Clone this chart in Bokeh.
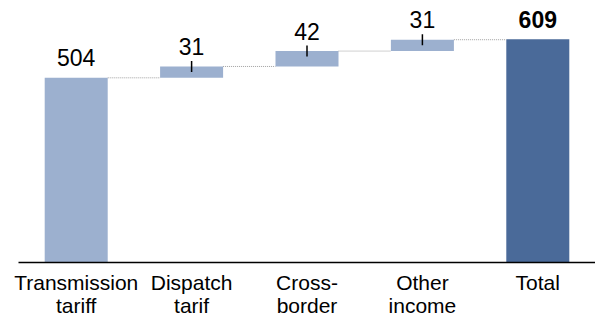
import math
from bokeh.plotting import figure
from bokeh.models import Range1d, FixedTicker, ColumnDataSource
from bokeh.embed import file_html
from bokeh.resources import INLINE
from bokeh.core.properties import value

# ---- data ----
categories = ["Transmission\ntariff", "Dispatch\ntarif", "Cross-\nborder", "Other\nincome", "Total"]
values = [504, 31, 42, 31, 609]
value_labels = ["504", "31", "42", "31", "609"]
is_total = [False, False, False, False, True]

# ---- derived waterfall geometry ----
xs = list(range(len(values)))
bottoms, tops = [], []
cum = 0
for v, t in zip(values, is_total):
    if t:
        bottoms.append(0)
        tops.append(v)
    else:
        bottoms.append(cum)
        cum += v
        tops.append(cum)

LIGHT = "#9cb0cf"
DARK = "#4a6a99"
colors = [DARK if t else LIGHT for t in is_total]
styles = ["bold" if t else "normal" for t in is_total]
BAR_W = 0.546

src = ColumnDataSource(dict(x=xs, bottom=bottoms, top=tops, color=colors,
                            label=value_labels, style=styles))

p = figure(width=595, height=326, output_backend="svg", toolbar_location=None,
           x_range=Range1d(-0.5, 4.5), y_range=Range1d(0, 715))
p.min_border_left = 18
p.min_border_right = 0
p.min_border_top = 0
p.min_border_bottom = 64
p.outline_line_color = None
p.xgrid.visible = False
p.ygrid.visible = False
p.yaxis.visible = False
p.background_fill_color = "white"
p.border_fill_color = "white"

p.vbar(x="x", bottom="bottom", top="top", width=BAR_W, fill_color="color",
       line_color=None, source=src)

# connectors
cx0, cx1, cy = [], [], []
for i in range(len(values) - 1):
    cx0.append(xs[i] + BAR_W / 2)
    cx1.append(xs[i + 1] - BAR_W / 2)
    cy.append(tops[i])
p.segment(x0=cx0, y0=cy, x1=cx1, y1=cy, line_color="#a0a0a0", line_width=1,
          line_dash="1 1")

# tick marks on floating bars
fx = [xs[i] for i in range(len(values)) if not is_total[i] and bottoms[i] > 0]
fy = [tops[i] for i in range(len(values)) if not is_total[i] and bottoms[i] > 0]
p.scatter(x=fx, y=fy, marker="dash", size=11, angle=math.pi / 2,
          line_color="black", line_width=1.5)

# value labels
p.text(x="x", y="top", text="label", source=src, text_align="center",
       text_baseline="alphabetic", y_offset=-20, text_font=value("Liberation Sans"),
       text_font_size="23px", text_font_style="style", text_color="black")

ax = p.xaxis[0]
ax.ticker = FixedTicker(ticks=xs)
ax.major_label_overrides = {i: c for i, c in zip(xs, categories)}
ax.major_tick_line_color = None
ax.minor_tick_line_color = None
ax.axis_line_color = "black"
ax.axis_line_width = 1.3
ax.major_label_text_font = "Liberation Sans"
ax.major_label_text_font_size = "21px"
ax.major_label_text_color = "black"
ax.major_label_text_line_height = 1.02
ax.major_label_standoff = 2

open("out.html", "w").write(file_html(p, INLINE))
